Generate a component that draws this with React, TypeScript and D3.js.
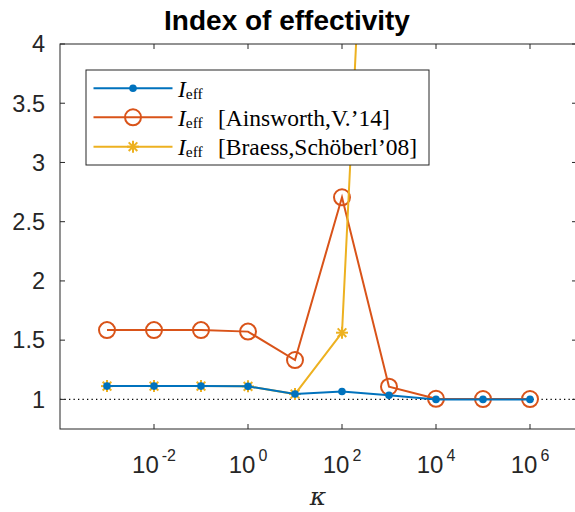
import React from "react";
import * as d3 from "d3";

// kappa values (log-spaced) and effectivity indices
const kappa = [1e-3, 1e-2, 1e-1, 1e0, 1e1, 1e2, 1e3, 1e4, 1e5, 1e6];
const effIndex = [1.112, 1.112, 1.112, 1.11, 1.045, 1.067, 1.034, 1.0, 1.0, 1.0];
const effAinsworth = [1.585, 1.585, 1.585, 1.572, 1.332, 2.706, 1.107, 1.005, 1.003, 1.003];
const kappaBraess = [1e-3, 1e-2, 1e-1, 1e0, 1e1, 1e2, 1e3];
const effBraess = [1.112, 1.112, 1.112, 1.11, 1.045, 1.563, 9.7];

const xTicks = [-2, 0, 2, 4, 6];
const yTicks = [1, 1.5, 2, 2.5, 3, 3.5, 4];
const yTickLabels = ["1", "1.5", "2", "2.5", "3", "3.5", "4"];

const legendLabels = ["", "[Ainsworth,V.\u201914]", "[Braess,Sch\u00f6berl\u201908]"];

const BLUE = "#0072BD";
const ORANGE = "#D95319";
const YELLOW = "#EDB120";
const AXIS = "#262626";

const W = 575;
const H = 512;
const left = 60;
const right = 577;
const top = 44;
const bottom = 429;

export default function App() {
  const x = d3.scaleLog().domain([1e-4, 1e7]).range([left, right]);
  const y = d3.scaleLinear().domain([0.75, 4]).range([bottom, top]);

  const line = d3
    .line<[number, number]>()
    .x((d) => x(d[0]))
    .y((d) => y(d[1]));

  const pts = (xs: number[], ys: number[]) =>
    xs.map((v, i) => [v, ys[i]] as [number, number]);

  const blue = pts(kappa, effIndex);
  const orange = pts(kappa, effAinsworth);
  const yellow = pts(kappaBraess, effBraess);

  const star = (cx: number, cy: number, key: string | number, r = 6) => {
    const d = r * 0.72;
    return (
      <g key={key} stroke={YELLOW} strokeWidth={2}>
        <line x1={cx - r} y1={cy} x2={cx + r} y2={cy} />
        <line x1={cx} y1={cy - r} x2={cx} y2={cy + r} />
        <line x1={cx - d} y1={cy - d} x2={cx + d} y2={cy + d} />
        <line x1={cx - d} y1={cy + d} x2={cx + d} y2={cy - d} />
      </g>
    );
  };

  const legendRows = [88.3, 117.3, 146.7];

  return (
    <svg
      width={W}
      height={H}
      style={{ position: "absolute", left: 0, top: 0, background: "#fff" }}
      fontFamily="'Liberation Sans', Arial, sans-serif"
    >
      <defs>
        <clipPath id="plotArea">
          <rect x={left} y={top} width={right - left} height={bottom - top} />
        </clipPath>
      </defs>
      <rect x={0} y={0} width={W} height={H} fill="#fff" />

      {/* title */}
      <text x={287} y={30} textAnchor="middle" fontSize={28} fontWeight="bold" fill="#000">
        Index of effectivity
      </text>

      {/* reference line at 1 */}
      <line
        x1={left}
        x2={right}
        y1={y(1)}
        y2={y(1)}
        stroke="#000"
        strokeWidth={1.2}
        strokeDasharray="1.3 3.2"
      />

      {/* data series */}
      <g clipPath="url(#plotArea)">
        <path d={line(orange) || ""} fill="none" stroke={ORANGE} strokeWidth={2} />
        {orange.map((p, i) => (
          <circle key={i} cx={x(p[0])} cy={y(p[1])} r={8} fill="none" stroke={ORANGE} strokeWidth={2} />
        ))}
        <path d={line(yellow) || ""} fill="none" stroke={YELLOW} strokeWidth={2} />
        {yellow.map((p, i) => star(x(p[0]), y(p[1]), i))}
        <path d={line(blue) || ""} fill="none" stroke={BLUE} strokeWidth={2} />
        {blue.map((p, i) => (
          <circle key={i} cx={x(p[0])} cy={y(p[1])} r={3.8} fill={BLUE} />
        ))}
      </g>

      {/* axes box */}
      <rect
        x={left}
        y={top}
        width={right - left}
        height={bottom - top}
        fill="none"
        stroke={AXIS}
        strokeWidth={1}
      />

      {/* x ticks */}
      {xTicks.map((e) => {
        const px = x(Math.pow(10, e));
        return (
          <g key={e}>
            <line x1={px} x2={px} y1={bottom} y2={bottom - 5} stroke={AXIS} />
            <line x1={px} x2={px} y1={top} y2={top + 5} stroke={AXIS} />
            <text x={px} y={473} textAnchor="middle" fontSize={24} fill={AXIS}>
              10
              <tspan dx={3} dy={-12} fontSize={16}>
                {e < 0 ? `-${-e}` : `${e}`}
              </tspan>
            </text>
          </g>
        );
      })}

      {/* y ticks */}
      {yTicks.map((v, i) => {
        const py = y(v);
        return (
          <g key={v}>
            <line x1={left} x2={left + 5} y1={py} y2={py} stroke={AXIS} />
            <line x1={right} x2={right - 5} y1={py} y2={py} stroke={AXIS} />
            <text x={45} y={py + 8.3} textAnchor="end" fontSize={23.5} fill={AXIS}>
              {yTickLabels[i]}
            </text>
          </g>
        );
      })}

      {/* x label */}
      <text
        x={318}
        y={505}
        textAnchor="middle"
        fontSize={25}
        fontStyle="italic"
        fontFamily="'DejaVu Serif', 'Liberation Serif', serif"
        fill={AXIS}
      >
        κ
      </text>

      {/* legend */}
      <g fontFamily="'Liberation Serif', 'DejaVu Serif', serif" fill="#000">
        <rect x={86} y={70} width={343} height={95} fill="#fff" stroke={AXIS} strokeWidth={1} />
        {legendRows.map((ry, i) => {
          const color = [BLUE, ORANGE, YELLOW][i];
          return (
            <g key={i}>
              <line x1={93.5} x2={172.5} y1={ry} y2={ry} stroke={color} strokeWidth={2} />
              {i === 0 && <circle cx={133} cy={ry} r={3.8} fill={BLUE} />}
              {i === 1 && (
                <circle cx={133} cy={ry} r={8} fill="none" stroke={ORANGE} strokeWidth={2} />
              )}
              {i === 2 && star(133, ry, "s")}
              <text x={178} y={ry + 8.4} fontSize={23.5}>
                <tspan fontStyle="italic">I</tspan>
                <tspan fontSize={15.5} dy={2}>
                  eff
                </tspan>
              </text>
              {legendLabels[i] && (
                <text x={218} y={ry + 8.4} fontSize={23.5}>
                  {legendLabels[i]}
                </text>
              )}
            </g>
          );
        })}
      </g>
    </svg>
  );
}
